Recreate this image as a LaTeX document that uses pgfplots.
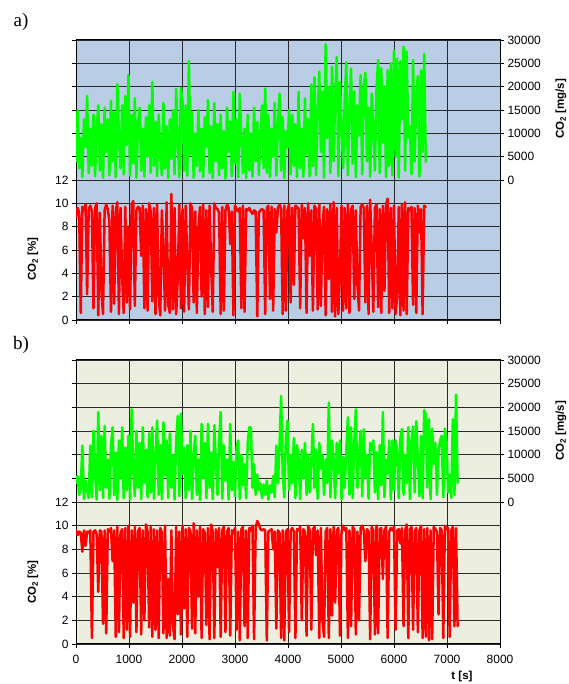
\documentclass[border=0pt]{standalone}
\usepackage{pgfplots}
\pgfplotsset{compat=1.18}
\usepackage{pgfplotstable}
\usepackage{fontspec}
\setmainfont{Liberation Sans}
\newfontfamily\seriffont{Liberation Serif}
\definecolor{bgA}{HTML}{B9CDE5}
\definecolor{bgB}{HTML}{ECEEDF}
\definecolor{gridc}{HTML}{2A2A2A}
\definecolor{cored}{HTML}{FF0000}
\definecolor{cogreen}{HTML}{00FF00}

\pgfplotstableread[row sep=\\]{
t r g\\
0 8.8 4000\\ 30 9.6 15000\\ 60 9.2 2500\\ 90 0.6 9000\\ 120 9.7 600\\ 150 9.4 13000\\ 180 9.9 7000\\ 210 2.2 18000\\ 240 9.5 1500\\ 270 9.8 11000\\
300 9.3 3000\\ 330 1.0 14000\\ 360 9.6 800\\ 390 10.0 10500\\ 420 0.4 16000\\ 450 9.2 2000\\ 480 2.5 12000\\ 510 0.5 500\\ 540 9.4 15500\\ 570 9.9 6000\\
600 9.5 13000\\ 630 8.5 1000\\ 660 0.7 17000\\ 690 9.8 4000\\ 720 1.4 14500\\ 750 9.3 600\\ 780 10.1 20500\\ 810 0.5 9000\\ 840 9.6 2500\\ 870 3.8 16000\\
900 0.6 1200\\ 930 9.7 18000\\ 960 1.5 7500\\ 990 8.0 22500\\ 1020 0.9 900\\ 1050 9.9 14000\\ 1080 10.2 3500\\ 1110 1.2 17500\\ 1140 9.4 500\\ 1170 9.7 12000\\
1200 9.6 15500\\ 1230 5.5 2000\\ 1260 9.8 11000\\ 1290 1.0 700\\ 1320 9.5 13500\\ 1350 0.8 5000\\ 1380 10.0 16000\\ 1410 9.3 1500\\ 1440 1.6 21000\\ 1470 9.6 3000\\
1500 0.5 12500\\ 1530 9.9 800\\ 1560 2.0 14000\\ 1590 0.4 6500\\ 1620 9.4 1000\\ 1650 6.0 16500\\ 1680 0.8 2500\\ 1710 10.1 11500\\ 1740 1.3 400\\ 1770 0.6 13000\\
1800 10.8 4500\\ 1830 0.9 15000\\ 1860 9.6 1200\\ 1890 0.5 19500\\ 1920 3.5 8000\\ 1950 9.9 600\\ 1980 1.0 19700\\ 2010 9.5 17000\\ 2040 0.7 2000\\ 2070 9.8 16000\\
2100 5.0 900\\ 2130 0.9 25500\\ 2160 10.0 5500\\ 2190 9.6 14500\\ 2220 1.5 500\\ 2250 9.3 10000\\ 2280 0.6 3000\\ 2310 8.0 15000\\ 2340 9.7 1800\\ 2370 2.0 11000\\
2400 9.9 600\\ 2430 0.5 13500\\ 2460 9.4 7000\\ 2490 1.1 17100\\ 2520 9.8 1500\\ 2550 4.5 11500\\ 2580 0.7 400\\ 2610 10.0 16500\\ 2640 9.6 4000\\ 2670 9.5 12000\\
2700 9.2 1000\\ 2730 0.5 14000\\ 2760 9.7 2500\\ 2790 0.8 10500\\ 2820 9.4 300\\ 2850 9.9 15500\\ 2880 9.6 6000\\ 2910 6.5 12500\\ 2940 9.3 800\\ 2970 0.4 18900\\
3000 9.8 3500\\ 3030 9.5 13000\\ 3060 9.3 600\\ 3090 9.6 18500\\ 3120 1.0 9000\\ 3150 9.8 1500\\ 3180 0.7 11000\\ 3210 9.5 400\\ 3240 9.4 14000\\ 3270 9.6 2000\\
3300 9.3 10000\\ 3330 9.1 700\\ 3360 9.4 15500\\ 3390 9.3 4000\\ 3420 0.3 12500\\ 3450 9.2 1000\\ 3480 9.4 9500\\ 3510 9.5 16000\\ 3540 9.4 2500\\ 3570 0.5 19600\\
3600 9.6 1500\\ 3630 9.8 14000\\ 3660 1.8 600\\ 3690 9.7 11000\\ 3720 0.8 5000\\ 3750 9.5 16500\\ 3780 7.5 900\\ 3810 9.6 12000\\ 3840 9.9 18500\\ 3870 9.5 2000\\
3900 0.5 13500\\ 3930 9.8 400\\ 3960 0.8 10500\\ 3990 9.4 7000\\ 4020 9.9 15000\\ 4050 1.5 1200\\ 4080 9.6 14000\\ 4110 3.0 3000\\ 4140 9.8 12000\\ 4170 9.7 600\\
4200 9.5 18900\\ 4230 1.0 2500\\ 4260 9.9 11000\\ 4290 7.0 700\\ 4320 9.6 17500\\ 4350 0.6 5500\\ 4380 10.0 13000\\ 4410 5.5 800\\ 4440 9.4 20500\\ 4470 0.8 3000\\
4500 9.8 22000\\ 4530 9.5 1000\\ 4560 0.9 14500\\ 4590 9.9 23200\\ 4620 1.2 6000\\ 4650 8.0 19000\\ 4680 9.7 500\\ 4710 0.4 29100\\ 4740 9.5 9000\\ 4770 3.5 20000\\
4800 9.9 1500\\ 4830 0.7 24300\\ 4860 10.1 4000\\ 4890 0.3 18000\\ 4920 9.6 26400\\ 4950 0.5 800\\ 4980 4.0 21000\\ 5010 9.8 12000\\ 5040 0.8 2500\\ 5070 9.6 17000\\
5100 1.0 25200\\ 5130 9.9 1000\\ 5160 0.6 15000\\ 5190 9.5 23900\\ 5220 9.8 3500\\ 5250 1.8 19000\\ 5280 9.4 600\\ 5310 3.0 16000\\ 5340 0.8 9500\\ 5370 9.7 22500\\
5400 9.9 1200\\ 5430 9.6 20000\\ 5460 1.5 23000\\ 5490 9.8 4000\\ 5520 0.5 15500\\ 5550 10.3 700\\ 5580 6.0 18500\\ 5610 0.7 11000\\ 5640 9.6 2000\\ 5670 9.9 19500\\
5700 1.1 25700\\ 5730 9.5 1500\\ 5760 0.6 24000\\ 5790 9.8 8000\\ 5820 2.5 20000\\ 5850 9.9 600\\ 5880 10.4 23500\\ 5910 0.6 3000\\ 5940 9.6 25000\\ 5970 1.0 1000\\
6000 9.8 27700\\ 6030 0.5 5000\\ 6060 2.0 26000\\ 6090 9.7 500\\ 6120 0.4 25500\\ 6150 9.9 13000\\ 6180 0.8 28600\\ 6210 10.1 2000\\ 6240 0.5 27500\\ 6270 9.6 9000\\
6300 9.4 11500\\ 6330 9.7 1200\\ 6360 1.3 25700\\ 6390 9.6 4000\\ 6420 0.6 18000\\ 6450 9.8 22300\\ 6480 7.5 700\\ 6510 9.5 23500\\ 6540 0.5 6000\\ 6570 9.8 27000\\
6600 9.7 3900\\
}\tableA

\pgfplotstableread[row sep=\\]{
t r g\\
0 9.6 4000\\ 30 9.2 5500\\ 60 9.5 1500\\ 90 9.4 3000\\ 120 7.8 11900\\ 150 9.6 600\\ 180 8.3 4500\\ 210 9.5 2500\\ 240 9.4 800\\ 270 9.6 11900\\
300 0.5 1000\\ 330 9.5 15100\\ 360 9.6 6000\\ 390 9.3 500\\ 420 4.4 19000\\ 450 9.6 2500\\ 480 9.5 14000\\ 510 1.7 900\\ 540 9.6 16000\\ 570 0.9 3000\\
600 9.7 9000\\ 630 9.5 700\\ 660 9.8 12000\\ 690 7.0 15800\\ 720 9.6 1500\\ 750 0.6 10500\\ 780 9.9 400\\ 810 1.0 13000\\ 840 9.4 5000\\ 870 9.7 15800\\
900 0.5 800\\ 930 9.8 11500\\ 960 1.2 2500\\ 990 10.0 14000\\ 1020 0.6 500\\ 1050 9.6 19600\\ 1080 3.5 7000\\ 1110 9.9 1200\\ 1140 1.0 15000\\ 1170 9.5 3000\\
1200 9.8 12500\\ 1230 0.8 600\\ 1260 9.6 15800\\ 1290 2.0 4000\\ 1320 10.1 11000\\ 1350 9.5 1000\\ 1380 1.4 14500\\ 1410 9.9 2000\\ 1440 0.6 15800\\ 1470 9.7 700\\
1500 1.2 9500\\ 1530 9.6 17200\\ 1560 0.5 1500\\ 1590 9.8 12000\\ 1620 9.4 600\\ 1650 0.9 16800\\ 1680 10.0 5500\\ 1710 0.5 13000\\ 1740 5.5 900\\ 1770 0.7 14500\\
1800 9.6 3000\\ 1830 1.5 10000\\ 1860 0.4 500\\ 1890 9.9 13000\\ 1920 2.5 18200\\ 1950 9.5 1200\\ 1980 0.8 18700\\ 2010 10.0 6000\\ 2040 3.0 11500\\ 2070 9.7 800\\
2100 0.6 12000\\ 2130 9.8 2500\\ 2160 9.5 15000\\ 2190 1.3 600\\ 2220 10.2 10000\\ 2250 0.9 14000\\ 2280 9.6 1500\\ 2310 4.0 9000\\ 2340 9.9 400\\ 2370 0.5 16500\\
2400 9.7 5000\\ 2430 9.4 12500\\ 2460 1.6 800\\ 2490 9.8 16500\\ 2520 0.4 3000\\ 2550 10.1 10500\\ 2580 9.5 600\\ 2610 0.5 16200\\ 2640 9.7 8000\\ 2670 6.5 1500\\
2700 9.8 13000\\ 2730 0.6 19000\\ 2760 9.6 700\\ 2790 9.9 12000\\ 2820 1.0 4500\\ 2850 9.5 9000\\ 2880 9.8 500\\ 2910 0.7 16500\\ 2940 9.6 2500\\ 2970 9.4 8500\\
3000 9.8 1200\\ 3030 1.2 11500\\ 3060 9.5 13000\\ 3090 0.3 600\\ 3120 9.7 10000\\ 3150 9.9 3500\\ 3180 1.5 8000\\ 3210 9.6 800\\ 3240 0.5 12500\\ 3270 9.8 15800\\
3300 9.6 15800\\ 3330 10.0 3000\\ 3360 0.4 8000\\ 3390 9.8 1500\\ 3420 10.4 5800\\ 3450 10.1 2500\\ 3480 9.7 4000\\ 3510 9.6 800\\ 3540 9.7 3700\\ 3570 9.6 1500\\
3600 0.3 4500\\ 3630 9.5 500\\ 3660 9.6 3500\\ 3690 9.7 2000\\ 3720 8.0 5500\\ 3750 9.5 1000\\ 3780 1.3 11900\\ 3810 9.6 4000\\ 3840 9.4 11900\\ 3870 0.5 22400\\
3900 9.6 6000\\ 3930 0.3 1000\\ 3960 9.5 13500\\ 3990 9.7 17200\\ 4020 1.0 2500\\ 4050 9.6 10000\\ 4080 9.8 4000\\ 4110 9.5 13500\\ 4140 0.5 800\\ 4170 9.7 12000\\
4200 9.6 9500\\ 4230 9.9 600\\ 4260 2.0 11000\\ 4290 9.7 5000\\ 4320 9.5 12500\\ 4350 0.7 1500\\ 4380 10.0 10000\\ 4410 9.6 2000\\ 4440 1.2 8500\\ 4470 9.7 16500\\
4500 9.9 3000\\ 4530 7.5 11000\\ 4560 9.6 700\\ 4590 0.5 12500\\ 4620 9.8 7000\\ 4650 2.0 10000\\ 4680 0.6 1500\\ 4710 9.5 9000\\ 4740 9.8 4000\\ 4770 0.5 21000\\
4800 9.7 1000\\ 4830 2.4 13000\\ 4860 9.9 9000\\ 4890 3.5 800\\ 4920 9.6 12500\\ 4950 9.8 6000\\ 4980 0.7 13000\\ 5010 9.5 500\\ 5040 10.0 9500\\ 5070 9.6 3000\\
5100 9.8 11000\\ 5130 0.5 17900\\ 5160 9.6 1500\\ 5190 1.5 15800\\ 5220 9.9 800\\ 5250 9.7 12500\\ 5280 0.8 19600\\ 5310 9.5 3000\\ 5340 2.0 10000\\ 5370 9.8 15000\\
5400 10.0 1200\\ 5430 9.6 15400\\ 5460 7.0 5000\\ 5490 9.7 10000\\ 5520 9.5 700\\ 5550 0.4 12500\\ 5580 9.9 11000\\ 5610 9.6 13000\\ 5640 0.8 2000\\ 5670 10.0 10500\\
5700 0.9 600\\ 5730 9.7 12000\\ 5760 9.8 3500\\ 5790 5.5 19000\\ 5820 9.6 1000\\ 5850 9.9 9000\\ 5880 0.5 6000\\ 5910 9.5 13000\\ 5940 9.8 500\\ 5970 9.6 13000\\
6000 9.9 2500\\ 6030 1.2 13000\\ 6060 9.6 11000\\ 6090 9.7 800\\ 6120 8.5 13500\\ 6150 9.8 15400\\ 6180 1.5 1500\\ 6210 9.6 10000\\ 6240 10.1 4000\\ 6270 0.5 15800\\
6300 9.7 600\\ 6330 9.9 13000\\ 6360 1.2 16000\\ 6390 9.5 2000\\ 6420 9.8 17100\\ 6450 1.0 9000\\ 6480 9.6 1200\\ 6510 10.0 14000\\ 6540 0.5 800\\ 6570 9.7 19400\\
6600 0.6 18500\\ 6630 9.8 3000\\ 6660 0.3 17500\\ 6690 9.6 600\\ 6720 0.4 15500\\ 6750 9.9 8000\\ 6780 9.7 12500\\ 6810 9.5 1500\\ 6840 2.5 10500\\ 6870 9.8 13000\\
6900 9.6 14000\\ 6930 0.5 1000\\ 6960 10.0 15500\\ 6990 9.7 13000\\ 7020 9.8 2000\\ 7050 0.6 5800\\ 7080 9.6 900\\ 7110 9.9 17500\\ 7140 1.5 1500\\ 7170 9.8 22700\\
7200 1.5 4000\\
}\tableB

\pgfplotsset{
  base/.style={
    scale only axis, width=424pt,
    anchor=south west,
    xmin=0, xmax=8000,
    tick align=outside, major tick length=4pt,
    tick style={black, line width=0.6pt},
    axis line style={black, line width=1pt},
    scaled ticks=false,
    /pgf/number format/fixed,
    /pgf/number format/assume math mode=true,
    /pgf/number format/set thousands separator={},
    ticklabel style={font=\fontsize{12}{14}\selectfont},
    xticklabel style={yshift=-4pt},
    clip=true,
  },
  leftax/.style={
    base,
    ymin=0, ymax=24,
    ytick={0,2,...,24},
    yticklabels={0,2,4,6,8,10,12,{},{},{},{},{},{}},
    xtick={0,1000,...,8000},
    ytick pos=left, xtick pos=bottom,
    grid=major,
    grid style={gridc, line width=0.9pt},
  },
  rightax/.style={
    base,
    ymin=-30000, ymax=30000,
    ytick={0,5000,...,30000},
    axis y line*=right,
    axis x line=none,
  },
  redline/.style={cored, line width=2.5pt, line join=round, line cap=round},
  greenline/.style={cogreen, line width=2.5pt, line join=round, line cap=round},
}

\begin{document}
\begin{tikzpicture}[x=1pt,y=1pt]
\path[use as bounding box] (0,0) rectangle (568,684);

% panel a
\begin{axis}[leftax, at={(76pt,364pt)}, height=280pt,
  xticklabels={},
  axis background/.style={fill=bgA}]
  \addplot[redline] table[x=t,y=r] {\tableA};
\end{axis}
\begin{axis}[rightax, at={(76pt,364pt)}, height=280pt]
  \addplot[greenline] table[x=t,y=g] {\tableA};
\end{axis}

% panel b
\begin{axis}[leftax, at={(76pt,40pt)}, height=284pt,
  axis background/.style={fill=bgB}]
  \addplot[redline] table[x=t,y=r] {\tableB};
\end{axis}
\begin{axis}[rightax, at={(76pt,40pt)}, height=284pt]
  \addplot[greenline] table[x=t,y=g] {\tableB};
\end{axis}

\node at (21,662) {\seriffont\fontsize{19}{21}\selectfont a)};
\node at (21,339) {\seriffont\fontsize{19}{21}\selectfont b)};
\node[rotate=90] at (33,425) {\fontsize{11.5}{13}\selectfont\bfseries CO\textsubscript{2} [\%]};
\node[rotate=90] at (33,102) {\fontsize{11.5}{13}\selectfont\bfseries CO\textsubscript{2} [\%]};
\node[rotate=90] at (561,575) {\fontsize{11.5}{13}\selectfont\bfseries CO\textsubscript{2} [mg/s]};
\node[rotate=90] at (561,253) {\fontsize{11.5}{13}\selectfont\bfseries CO\textsubscript{2} [mg/s]};
\node at (462,7) {\fontsize{11.5}{13}\selectfont\bfseries t [s]};
\end{tikzpicture}
\end{document}
